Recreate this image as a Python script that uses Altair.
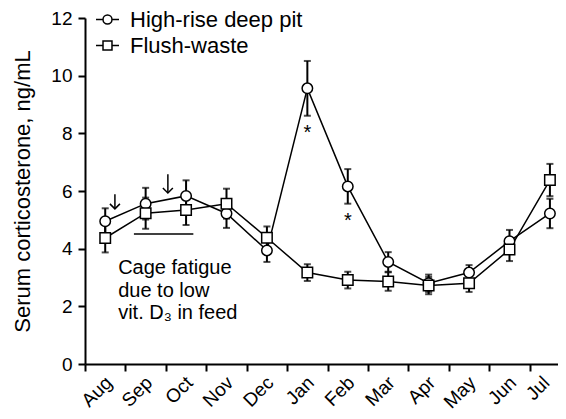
import altair as alt
import pandas as pd

FONT = "Liberation Sans"

months = ["Aug", "Sep", "Oct", "Nov", "Dec", "Jan", "Feb", "Mar", "Apr", "May", "Jun", "Jul"]
series_names = ["High-rise deep pit", "Flush-waste"]
hr_mean = [4.95, 5.56, 5.83, 5.22, 3.94, 9.56, 6.16, 3.54, 2.80, 3.17, 4.26, 5.22]
hr_sem = [0.45, 0.55, 0.54, 0.50, 0.40, 0.95, 0.60, 0.34, 0.30, 0.26, 0.39, 0.51]
fw_mean = [4.37, 5.23, 5.34, 5.56, 4.38, 3.17, 2.91, 2.86, 2.72, 2.80, 3.97, 6.38]
fw_sem = [0.50, 0.54, 0.52, 0.52, 0.39, 0.29, 0.29, 0.32, 0.30, 0.30, 0.40, 0.56]
star_months = ["Jan", "Feb"]

annot_lines = ["Cage fatigue", "due to low", "vit. D\u2083 in feed"]
annot_x = [0.82, 0.82, 0.82]
annot_y = [3.13, 2.32, 1.55]
arrow_x = [0.74, 2.05]
arrow_top = [5.89, 6.58]
arrow_bot = [5.38, 5.93]
bar_x = [1.21, 2.68]
bar_y = [4.51]
y_ticks = [0, 2, 4, 6, 8, 10, 12]

rows = []
for name, means, sems in zip(series_names, [hr_mean, fw_mean], [hr_sem, fw_sem]):
    for i, (m, v, e) in enumerate(zip(months, means, sems)):
        rows.append(dict(series=name, month=m, pos=i + 0.5, value=v, lo=v - e, hi=v + e))
df = pd.DataFrame(rows)
star_df = df[(df.series == series_names[0]) & (df.month.isin(star_months))]
annot_df = pd.DataFrame(dict(x=annot_x, y=annot_y, t=annot_lines))
arrow_df = pd.DataFrame(dict(x=arrow_x, top=arrow_top, bot=arrow_bot))
bar_df = pd.DataFrame(dict(x1=[bar_x[0]], x2=[bar_x[1]], y=bar_y))

label_expr = "[" + ",".join("'%s'" % m for m in months) + "][datum.value]"
last_tick = len(months) - 1

xscale = alt.Scale(domain=[0, 11.7], nice=False, zero=False)
yscale = alt.Scale(domain=[0, 12], nice=False, zero=False)
xaxis = alt.Axis(values=list(range(len(months))), labelExpr=label_expr, title=None,
                 labelAngle=315, labelAlign="right", labelBaseline="top",
                 labelOffset={"condition": {"test": "datum.value == %d" % last_tick, "value": 10},
                              "value": 17},
                 labelPadding=2, labelFontSize=19,
                 labelOverlap=False, labelFlush=False, labelBound=False)
yaxis = alt.Axis(values=y_ticks, title="Serum corticosterone, ng/mL",
                 titleFontSize=22, titleFontWeight="normal", titlePadding=16,
                 labelPadding=6, labelFontSize=19)


def X(field):
    return alt.X(field, scale=xscale, axis=xaxis)


def Y(field):
    return alt.Y(field, scale=yscale, axis=yaxis)


lines = alt.Chart(df).mark_line(color="black", strokeWidth=1.5).encode(
    x=X("pos:Q"), y=Y("value:Q"), detail="series:N")

err = alt.Chart(df).mark_rule(color="black", strokeWidth=2).encode(
    x=X("pos:Q"), y=Y("lo:Q"), y2="hi:Q")

caps = alt.Chart(df).transform_fold(["lo", "hi"], as_=["end", "yv"]).mark_tick(
    orient="horizontal", size=7, thickness=2, color="black").encode(
    x=X("pos:Q"), y=Y("yv:Q"))

points = alt.Chart(df).mark_point(filled=True, fill="white", stroke="black",
                                  strokeWidth=1.5, size=110, opacity=1).encode(
    x=X("pos:Q"), y=Y("value:Q"),
    shape=alt.Shape("series:N", scale=alt.Scale(domain=series_names, range=["circle", "square"]),
                    legend=None))

circ_path = "M-1,0L-0.39,0M0.39,0L1,0M0.39,0A0.39,0.39,0,1,1,-0.39,0A0.39,0.39,0,1,1,0.39,0Z"
sq_path = "M-1,0L-0.39,0M0.39,0L1,0M-0.39,-0.39L0.39,-0.39L0.39,0.39L-0.39,0.39Z"

# legend-only layer: no rows drawn, the legend comes from the explicit shape domain
legend_layer = alt.Chart(df).transform_filter("false").mark_point(
    filled=True, fill="white", stroke="black", strokeWidth=1.5, opacity=1).encode(
    x=X("pos:Q"), y=Y("value:Q"),
    shape=alt.Shape("series:N", scale=alt.Scale(domain=series_names, range=[circ_path, sq_path]),
                    legend=alt.Legend(title=None, orient="none", legendX=10, legendY=-11,
                                      labelFontSize=22, labelFont=FONT, labelColor="black",
                                      labelLimit=400, symbolSize=529, symbolStrokeWidth=1.5,
                                      rowPadding=2, labelOffset=10, padding=0)))

stars = alt.Chart(star_df).mark_text(text="*", fontSize=20, dy=23, baseline="alphabetic",
                                     font=FONT, color="black").encode(
    x=X("pos:Q"), y=Y("lo:Q"))

annot = alt.Chart(annot_df).mark_text(align="left", baseline="alphabetic", fontSize=20,
                                      font=FONT, color="black").encode(
    x=X("x:Q"), y=Y("y:Q"), text="t:N")

arrow_shaft = alt.Chart(arrow_df).mark_rule(color="black", strokeWidth=1.5).encode(
    x=X("x:Q"), y=Y("top:Q"), y2="bot:Q")
arrow_head = alt.Chart(arrow_df).mark_point(shape="M-1,-1L0,0L1,-1", size=100, filled=False,
                                            stroke="black", strokeWidth=1.5, opacity=1).encode(
    x=X("x:Q"), y=Y("bot:Q"))

hbar = alt.Chart(bar_df).mark_rule(color="black", strokeWidth=1.5).encode(
    x=X("x1:Q"), x2="x2:Q", y=Y("y:Q"))

chart = alt.layer(
    lines, err, caps, points, legend_layer, stars, annot, arrow_shaft, arrow_head, hbar
).resolve_scale(shape="independent").properties(
    width=473, height=346,
    autosize=alt.AutoSizeParams(type="none"),
    padding={"left": 77, "top": 10, "right": 0, "bottom": 56},
).configure_view(stroke=None).configure_axis(
    grid=False, domainColor="black", domainWidth=2, tickColor="black", tickWidth=2,
    tickSize=7, labelColor="black", titleColor="black", labelFont=FONT, titleFont=FONT
)

chart.save("out.html", embed_options={"renderer": "svg", "actions": False})
